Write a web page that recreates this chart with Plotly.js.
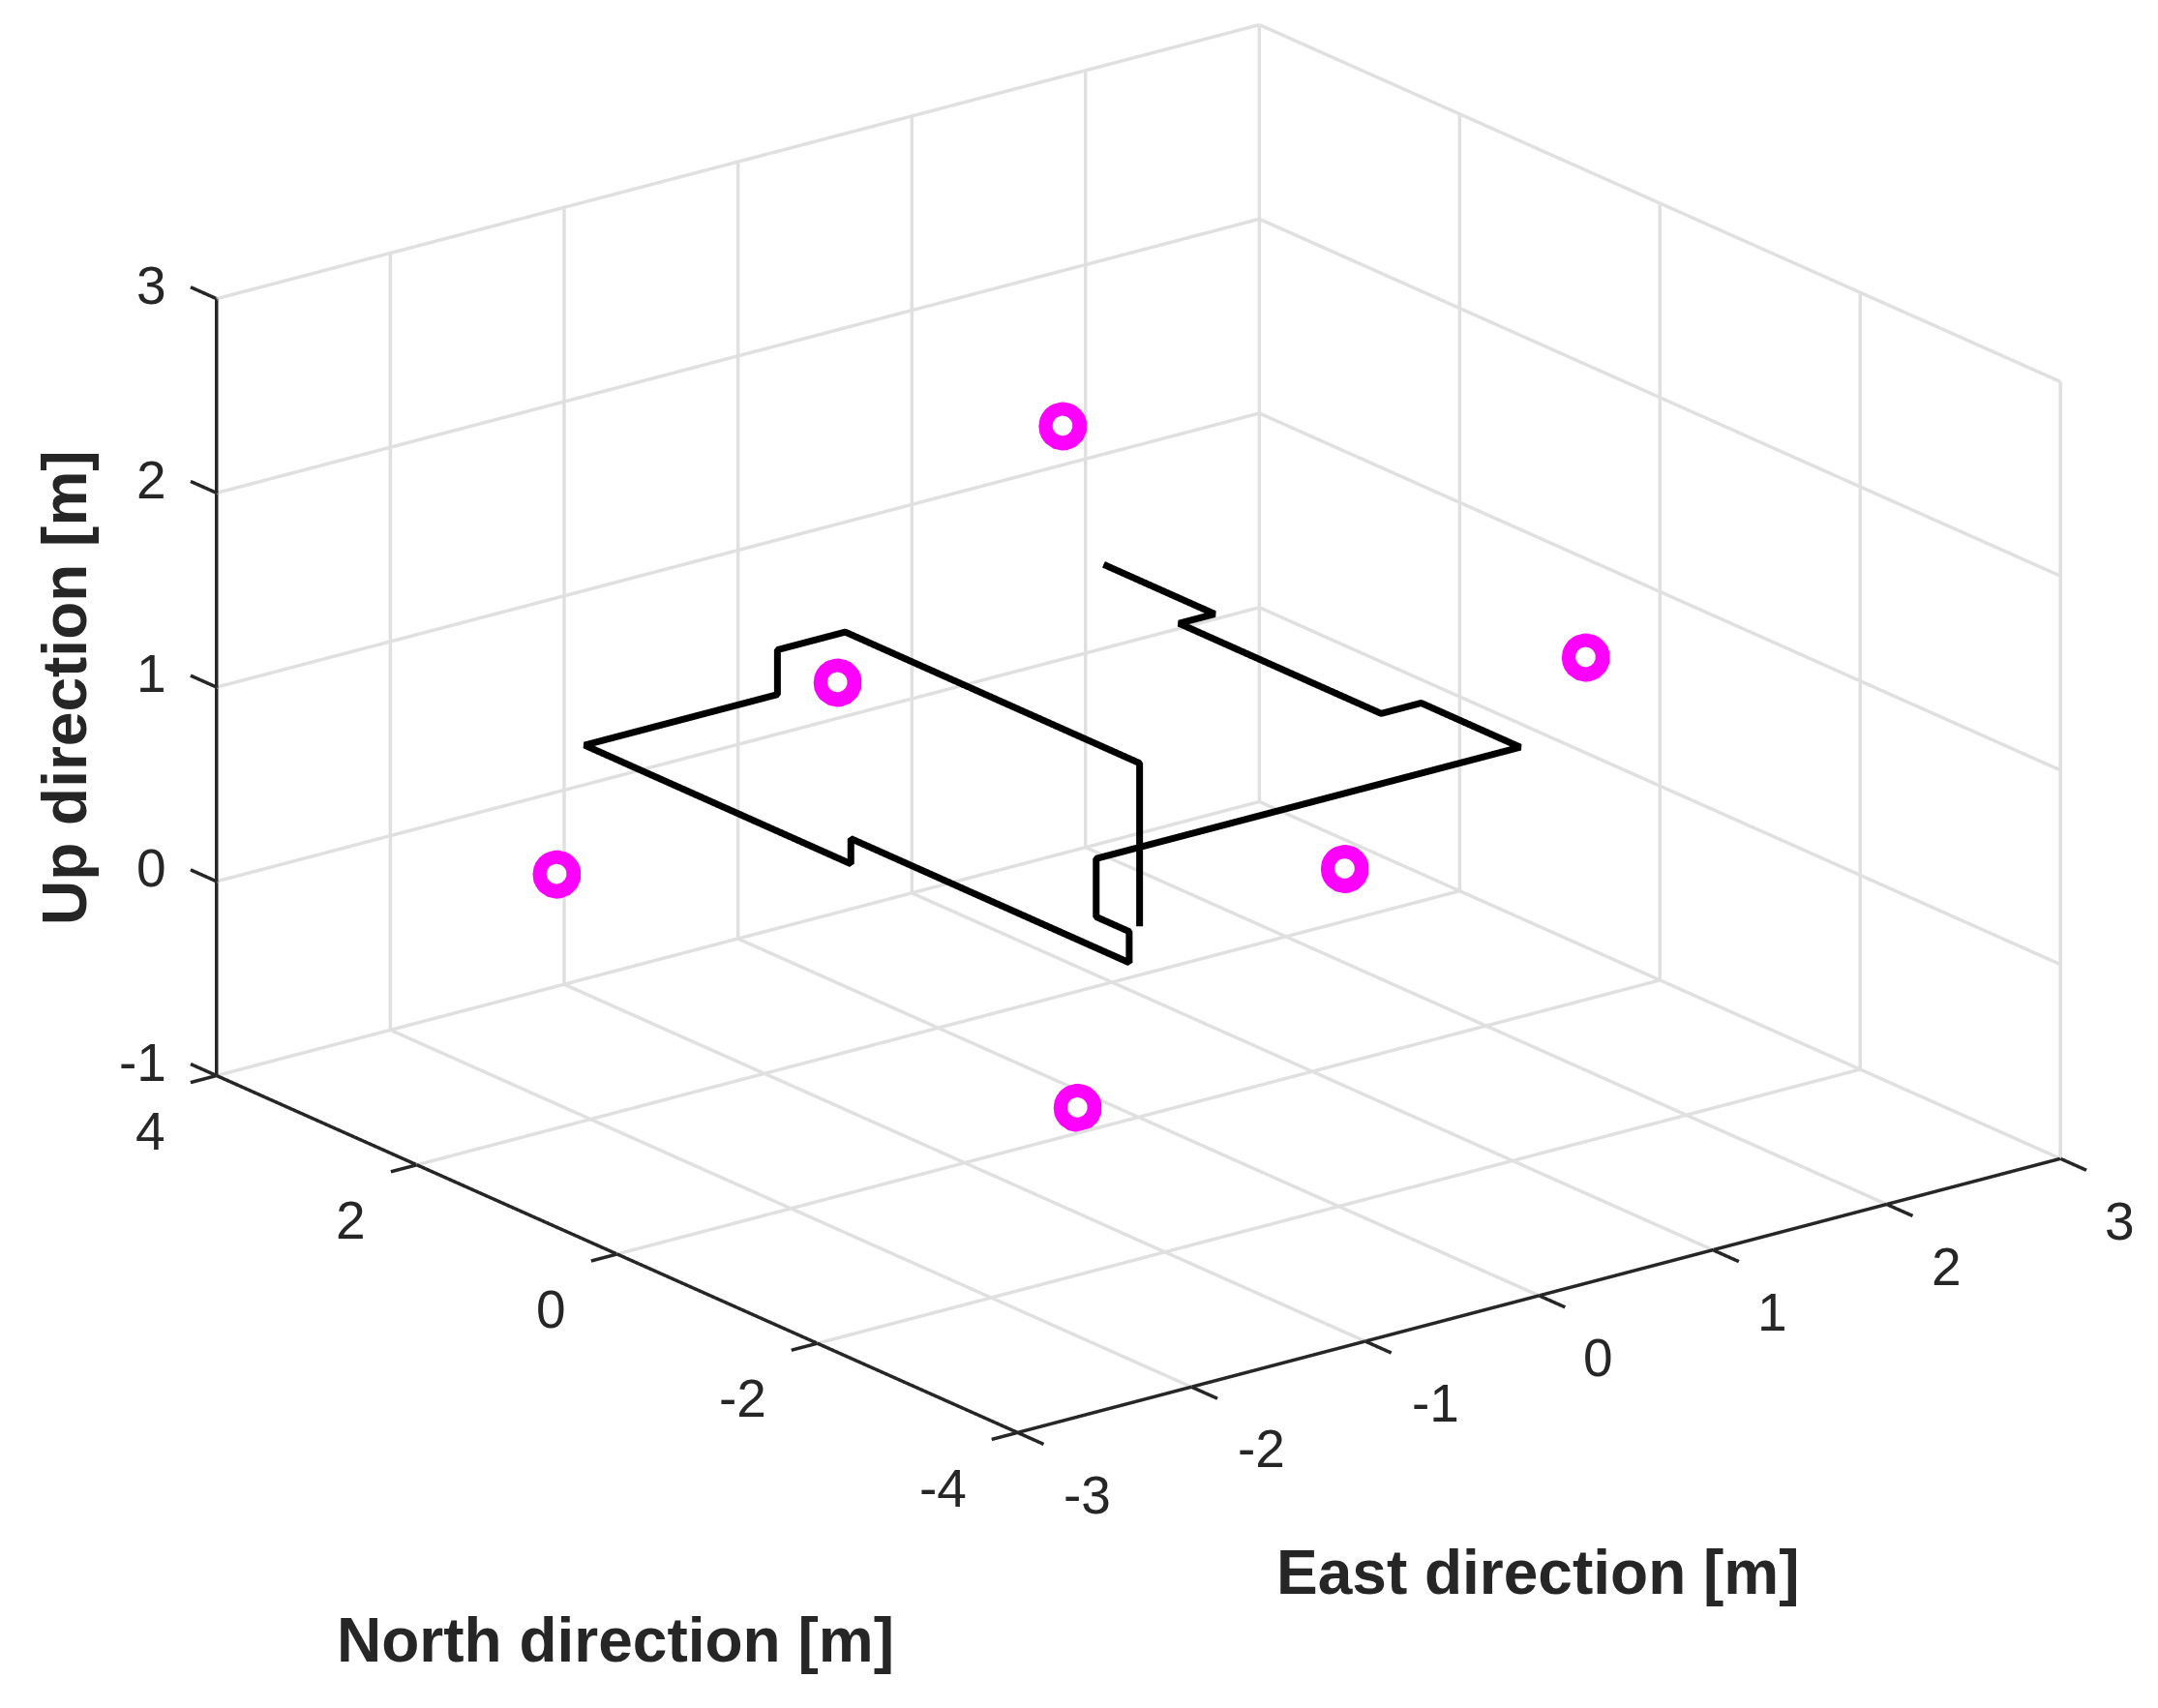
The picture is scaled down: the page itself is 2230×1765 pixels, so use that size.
<!DOCTYPE html>
<html><head><meta charset="utf-8">
<script src="https://cdn.plot.ly/plotly-3.0.1.min.js"></script>
<style>html,body{margin:0;background:#fff}#plot{width:2230px;height:1765px}</style></head>
<body><div id="plot"></div>
<script>
// Flight path
const pathEast  = [1.176,1.176,0.97,0.97,1.2,1.2,-1.24,-1.24,-1.24,-1.24,-1.24,-1.24,-1.24,-0.13,-0.13,0.26,0.26,0.26];
const pathNorth = [2.39,1.28,1.28,-0.74,-0.74,-1.73,-1.73,-1.73,-2.06,-2.06,0.72,0.72,3.38,3.38,3.38,3.38,0.44,0.44];
const pathUp    = [1.02,1.02,1.02,1.02,1.02,1.02,1.02,0.72,0.72,0.56,0.56,0.43,0.43,0.43,0.66,0.66,0.66,-0.18];
// Anchors
const anchorEast  = [-1.754,-0.726,0.61,1.19,2.202,-0.14];
const anchorNorth = [2.77,1.75,1.82,0.01,-0.64,0.37];
const anchorUp    = [0.03,1.01,2,0,1,-1];
const eastTicks = [-3,-2,-1,0,1,2,3];
const northTicks = [-4,-2,0,2,4];
const upTicks = [-1,0,1,2,3];
const titles = {east:'East direction [m]', north:'North direction [m]', up:'Up direction [m]'};

const E0=-3,E1=3,N0=-4,N1=4,U0=-1,U1=3;
const tickE=0.15, tickN=0.26;
const ink='#262626';
const fam='Liberation Sans, Arial, sans-serif';
const tickFont={family:fam,size:55,color:ink};
const titleFont={family:fam,size:64,color:ink};

function segs(list){const x=[],y=[],z=[];list.forEach(s=>{x.push(s[0],s[3],null);y.push(s[1],s[4],null);z.push(s[2],s[5],null);});return {x,y,z};}
const gridSegs=[];
eastTicks.forEach(e=>{gridSegs.push([e,N0,U0,e,N1,U0],[e,N1,U0,e,N1,U1]);});
northTicks.forEach(n=>{gridSegs.push([E0,n,U0,E1,n,U0],[E1,n,U0,E1,n,U1]);});
upTicks.forEach(u=>{gridSegs.push([E0,N1,u,E1,N1,u],[E1,N1,u,E1,N0,u]);});
const axisSegs=[[E0,N1,U0,E0,N1,U1],[E0,N1,U0,E0,N0,U0],[E0,N0,U0,E1,N0,U0]];
upTicks.forEach(u=>axisSegs.push([E0,N1,u,E0,N1+tickN,u]));
northTicks.forEach(n=>axisSegs.push([E0,n,U0,E0-tickE,n,U0]));
eastTicks.forEach(e=>axisSegs.push([e,N0,U0,e,N0-tickN,U0]));

function axis(range,ticks){
  return {range:range,autorange:false,tickmode:'array',tickvals:ticks,ticktext:ticks.map(String),title:{text:''},
    showgrid:false,zeroline:false,showspikes:false,showline:false,ticks:'',showticklabels:false,showbackground:false};
}
function ann(x,y,z,t,anchor,xs,ys){return {x,y,z,text:String(t),showarrow:false,xanchor:anchor,yanchor:'middle',xshift:xs,yshift:ys,font:tickFont};}
const sceneAnn=[
  ...upTicks.map(u=>ann(E0,N1,u,u,'right',-49,14)),
  ...northTicks.map(n=>ann(E0,n,U0,n,'right',-50,-57)),
  ...eastTicks.map(e=>ann(e,N0,U0,e,'left',e<0?46:44,-64))
];
const data=[
 Object.assign({type:'scatter3d',mode:'lines',line:{color:'#e0e0e0',width:7},connectgaps:false,showlegend:false,hoverinfo:'skip'},segs(gridSegs)),
 Object.assign({type:'scatter3d',mode:'lines',line:{color:ink,width:7},connectgaps:false,showlegend:false,hoverinfo:'skip'},segs(axisSegs)),
 {type:'scatter3d',mode:'lines',x:pathEast,y:pathNorth,z:pathUp,line:{color:'#000000',width:14},showlegend:false,hoverinfo:'skip'},
 {type:'scatter3d',mode:'markers',x:anchorEast,y:anchorNorth,z:anchorUp,marker:{color:'#ff00ff',size:29,line:{width:0}},showlegend:false,hoverinfo:'skip'},
 {type:'scatter3d',mode:'markers',x:anchorEast,y:anchorNorth,z:anchorUp,marker:{color:'#ffffff',size:12,line:{width:0}},showlegend:false,hoverinfo:'skip'}
];
const layout={
 width:2230,height:1765,paper_bgcolor:'#fff',margin:{l:0,r:0,t:0,b:0},showlegend:false,
 scene:{domain:{x:[0.055,1],y:[0.1472,0.9992]},
  xaxis:axis([-3.15,3.15],eastTicks),yaxis:axis([-4.26,4.26],northTicks),zaxis:axis([-1.1,3.1],upTicks),
  aspectmode:'manual',aspectratio:{x:1.897,y:1.925,z:1.193},
  annotations:sceneAnn,
  camera:{projection:{type:'orthographic'},center:{x:0,y:0,z:0},up:{x:0,y:0,z:1},eye:{x:-1.144,y:-1.49,z:0.684}}},
 annotations:[
  {xref:'paper',yref:'paper',x:1590/2230,y:1-1625/1765,xanchor:'center',yanchor:'middle',text:'<b>'+titles.east+'</b>',showarrow:false,font:titleFont},
  {xref:'paper',yref:'paper',x:636/2230,y:1-1695/1765,xanchor:'center',yanchor:'middle',text:'<b>'+titles.north+'</b>',showarrow:false,font:titleFont},
  {xref:'paper',yref:'paper',x:67/2230,y:1-711/1765,xanchor:'center',yanchor:'middle',text:'<b>'+titles.up+'</b>',textangle:-90,showarrow:false,font:titleFont}
 ]
};
Plotly.newPlot('plot',data,layout,{displayModeBar:false});
</script></body></html>
